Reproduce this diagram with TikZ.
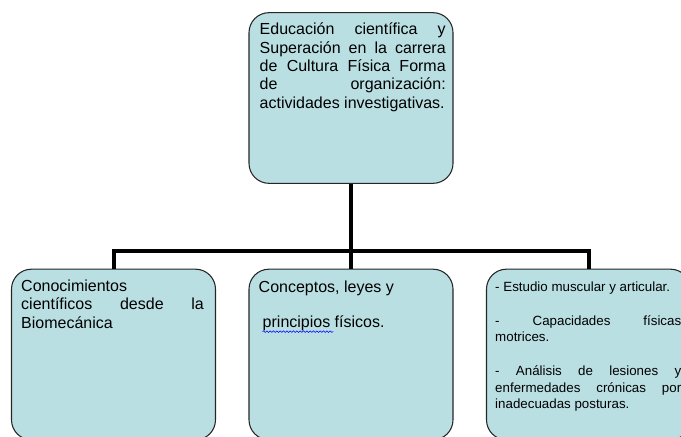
\documentclass[tikz,border=0pt]{standalone}
\usepackage{fontspec}
\setmainfont{Liberation Sans}
\usepackage{xcolor}
\usetikzlibrary{positioning,calc,decorations.pathmorphing}
\definecolor{cajaazul}{RGB}{185,223,227}
\tikzset{
  caja/.style={draw=black!85, line width=0.8pt, fill=cajaazul, rounded corners=15pt,
    minimum width=153pt, minimum height=128pt, inner sep=0pt},
  texto/.style={anchor=north west, text width=139.5pt, align=justify, inner sep=0pt,
    font=\fontsize{12}{13.8}\selectfont},
  textochico/.style={texto, font=\fontsize{10}{12.4}\selectfont},
  enlace/.style={line width=3pt},
}

\begin{document}
\begin{tikzpicture}[x=0.75pt,y=-0.75pt]
\useasboundingbox (0,0) rectangle (681,436);
\clip (0,0) rectangle (681,436);

% cajas
\node[caja] (educ) at (351,98) {};
\node[caja] (conoc) at (113.5,354.5) {};
\node[caja] (conc) at (351,354.5) {};
\node[caja] (estud) at (588.5,354.5) {};

% textos
\node[texto] (educTxt) at ([shift={(11,10.5)}]educ.north west)
  {Educación \hfill científica \hfill y\\
   Superación \hfill en \hfill la \hfill carrera\\
   de \hfill Cultura \hfill Física \hfill Forma\\
   de \hfill organización:\\
   actividades investigativas.};
\node[texto, text width=137pt] (conocTxt) at ([shift={(10,11)}]conoc.north west)
  {Conocimientos\\
   científicos \hfill desde \hfill la\\
   Biomecánica};
\node[texto] (concTxt) at ([shift={(10,12)}]conc.north west)
  {Conceptos, leyes y\\[12.4pt]
   \hspace*{3pt}principios físicos.};
\node[textochico] (estudTxt) at ([shift={(9,13)}]estud.north west)
  {- Estudio muscular y articular.\\[13pt]
   - \hfill Capacidades \hfill físicas\\
   motrices.\\[13pt]
   - \hfill Análisis \hfill de \hfill lesiones \hfill y\\
   enfermedades \hfill crónicas \hfill por\\
   inadecuadas posturas.};

% subrayado ondulado
\draw[blue, line width=0.4pt, decorate, decoration={snake, amplitude=0.6pt, segment length=2.5pt}]
  ([shift={(14,63)}]conc.north west) -- ++(71,0);

% conectores
\coordinate (barra) at (351,251);
\draw[enlace] (educ.south) -- (conc.north);
\draw[enlace] (conoc.north) |- (barra) -| (estud.north);
\end{tikzpicture}
\end{document}
